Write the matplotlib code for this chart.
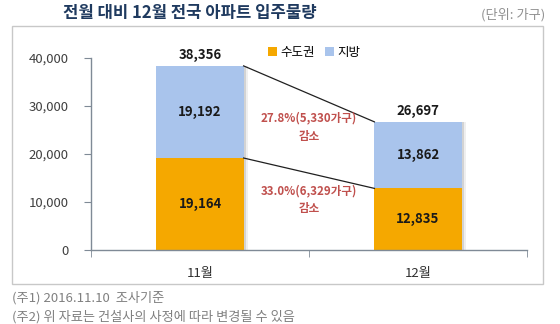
import matplotlib
matplotlib.use('Agg')
import matplotlib.pyplot as plt
from matplotlib.patches import Rectangle

plt.rcParams['font.family'] = ['Noto Sans CJK KR', 'DejaVu Sans']

# data
months = ['11월', '12월']
capital = [19164, 12835]
local = [19192, 13862]
totals = [38356, 26697]
yticks = [0, 10000, 20000, 30000, 40000]
notes = ['27.8%(5,330가구)\n감소', '33.0%(6,329가구)\n감소']

c_cap = '#F5A800'
c_loc = '#A9C4EC'
W, H = 560, 324

fig = plt.figure(figsize=(W / 100, H / 100), dpi=100)

# outer frame
fig.patches.append(Rectangle((12 / W, 1 - 284 / H), 531 / W, 258 / H, transform=fig.transFigure,
                             fill=False, edgecolor='#C8C8C8', linewidth=1))

ax = fig.add_axes([91 / W, 1 - 250 / H, 436 / W, 192 / H])
x = [0, 1]
bw = 0.40

# soft shadow on the right of bars
for off, a in [(0.012, 0.25), (0.022, 0.12)]:
    ax.bar([i + off for i in x], totals, bw, color='#808080', alpha=a, zorder=1, clip_on=False)
ax.bar(x, capital, bw, color=c_cap, label='수도권', zorder=2)
ax.bar(x, local, bw, bottom=capital, color=c_loc, label='지방', zorder=2, clip_on=False)

# connector lines
ax.plot([bw / 2, 1 - bw / 2], [totals[0], totals[1]], color='#202020', lw=0.9, clip_on=False, zorder=3)
ax.plot([bw / 2, 1 - bw / 2], [capital[0], capital[1]], color='#202020', lw=0.9, clip_on=False, zorder=3)

# labels
for i in x:
    ax.text(i, capital[i] / 2, f'{capital[i]:,}', ha='center', va='center', fontsize=9.5,
            fontweight='bold', color='#1a1a1a', zorder=4)
    ax.text(i, capital[i] + local[i] / 2, f'{local[i]:,}', ha='center', va='center', fontsize=9.5,
            fontweight='bold', color='#1a1a1a', zorder=4)
    ax.text(i, totals[i] + 2300, f'{totals[i]:,}', ha='center', va='center', fontsize=9.5,
            fontweight='bold', color='#1a1a1a', clip_on=False, zorder=4)

ax.text(0.5, 25600, notes[0], ha='center', va='center', fontsize=8.3, fontweight='bold',
        color='#C0504D', linespacing=1.5)
ax.text(0.5, 10500, notes[1], ha='center', va='center', fontsize=8.3, fontweight='bold',
        color='#C0504D', linespacing=1.5)

ax.set_xlim(-0.5, 1.5)
ax.set_ylim(0, 40000)
ax.set_yticks(yticks)
ax.set_yticklabels([f'{v:,}' for v in yticks], fontsize=9.5, color='#404040')
ax.set_xticks(x)
ax.set_xticklabels(months, fontsize=9.5, color='#303030')
ax.set_xticks([-0.5, 0.5, 1.5], minor=True)
ax.tick_params(axis='x', which='major', length=0, pad=12)
ax.tick_params(axis='x', which='minor', length=5, color='#7F8A96', direction='out')
ax.tick_params(axis='y', length=5, color='#7F8A96', direction='out', pad=11)
for s in ['top', 'right']:
    ax.spines[s].set_visible(False)
for s in ['left', 'bottom']:
    ax.spines[s].set_color('#7F8A96')
    ax.spines[s].set_linewidth(1)

ax.legend(loc='upper left', bbox_to_anchor=(0.38, 1.12), ncol=2, frameon=False, fontsize=9,
          handlelength=0.7, handleheight=0.7, handletextpad=0.3, columnspacing=0.8)

fig.text(190 / W, 1 - 13 / H, '전월 대비 12월 전국 아파트 입주물량', ha='center', va='center',
         fontsize=12, fontweight='bold', color='#1F3A5F')
fig.text(545 / W, 1 - 15 / H, '(단위: 가구)', ha='right', va='center', fontsize=9.5, color='#909090')
fig.text(12 / W, 1 - 298 / H, '(주1) 2016.11.10  조사기준', ha='left', va='center', fontsize=9.5, color='#808080')
fig.text(12 / W, 1 - 317 / H, '(주2) 위 자료는 건설사의 사정에 따라 변경될 수 있음', ha='left', va='center',
         fontsize=9.5, color='#808080')

fig.savefig('out.png', dpi=100)
